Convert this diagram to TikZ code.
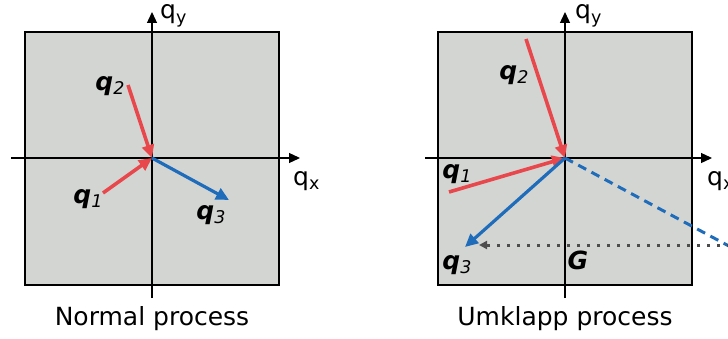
\documentclass[tikz,border=0pt]{standalone}
\usepackage{fontspec}
\setmainfont{DejaVu Sans}
\usetikzlibrary{arrows.meta}
\definecolor{PH-RED}{RGB}{232, 72, 76}
\definecolor{PH-BLUE}{RGB}{30, 108, 186}
\definecolor{PH-GRAY}{RGB}{211, 213, 211}
\definecolor{PH-DOT}{RGB}{77, 77, 77}

\newcommand{\qvec}[1]{{\bfseries\itshape q}\raisebox{-0.3ex}{\itshape\fontsize{17.5}{17.5}\selectfont #1}}
\newcommand{\qaxis}[1]{q\raisebox{-0.3ex}{\fontsize{17.5}{17.5}\selectfont #1}}

\begin{document}
\begin{tikzpicture}[x=1pt, y=1pt,
  panel/.style={fill=PH-GRAY, draw=black, line width=1.6pt},
  axis/.style={line width=1.3pt, -{Triangle[length=11pt, width=10pt]}},
  phonon/.style={line width=3.6pt, -{Triangle[length=13pt, width=12pt]}},
  lbl/.style={font=\fontsize{25}{25}\selectfont, inner sep=0pt}]
  \useasboundingbox (0,0) rectangle (728,338);

  % Normal process (left panel)
  \begin{scope}[shift={(152,180)}]
    \fill[panel] (-127,-127) rectangle (127,126);
    \coordinate (n-o) at (0,0);
    \draw[axis] (-141,0) -- (148,0);
    \draw[axis] (0,-140) -- (0,146);
    \node[lbl, anchor=base west] (n-qy) at (8,139) {\qaxis{y}};
    \node[lbl, anchor=base west] (n-qx) at (141,-27) {\qaxis{x}};

    \coordinate (n-q2) at (-24,73);
    \coordinate (n-q1) at (-49,-35);
    \coordinate (n-q3) at (77,-42);
    \draw[phonon, PH-RED] (n-q2) -- (n-o);
    \draw[phonon, PH-RED] (n-q1) -- (n-o);
    \draw[phonon, PH-BLUE, line width=3.2pt] (n-o) -- (n-q3);
    \node[lbl] (n-l2) at (-42,72) {\qvec{2}};
    \node[lbl] (n-l1) at (-64,-41) {\qvec{1}};
    \node[lbl] (n-l3) at (59,-57) {\qvec{3}};

    \node[lbl] (n-title) at (0,-161) {Normal process};
  \end{scope}

  % Umklapp process (right panel)
  \begin{scope}[shift={(565,180)}]
    \fill[panel] (-127,-127) rectangle (127,126);
    \coordinate (u-o) at (0,0);
    \draw[axis] (-140,0) -- (147,0);
    \draw[axis] (0,-140) -- (0,146);
    \node[lbl, anchor=base west] (u-qy) at (10,139) {\qaxis{y}};
    \node[lbl, anchor=base west] (u-qx) at (142,-27) {\qaxis{x}};

    \coordinate (u-q2) at (-39,119);
    \coordinate (u-q1) at (-116,-34);
    \coordinate (u-q3) at (-100,-89);
    \coordinate (u-sum) at (175,-94);
    \coordinate (u-g1) at (165,-87);
    \coordinate (u-g2) at (-86,-87);
    \draw[PH-BLUE, line width=3pt, dash pattern=on 9pt off 6pt] (u-o) -- (u-sum);
    \draw[PH-DOT, line width=3pt, dash pattern=on 3pt off 7pt,
      -{Triangle[length=8pt, width=8pt]}] (u-g1) -- (u-g2);
    \draw[phonon, PH-RED] (u-q2) -- (u-o);
    \draw[phonon, PH-RED] (u-q1) -- (u-o);
    \draw[phonon, PH-BLUE, line width=3.2pt] (u-o) -- (u-q3);
    \node[lbl] (u-l2) at (-51,83) {\qvec{2}};
    \node[lbl] (u-l1) at (-108,-16) {\qvec{1}};
    \node[lbl] (u-l3) at (-108,-107) {\qvec{3}};
    \node[lbl] (u-G) at (13,-102) {\bfseries\itshape G};

    \node[lbl] (u-title) at (0,-161) {Umklapp process};
  \end{scope}
\end{tikzpicture}
\end{document}
